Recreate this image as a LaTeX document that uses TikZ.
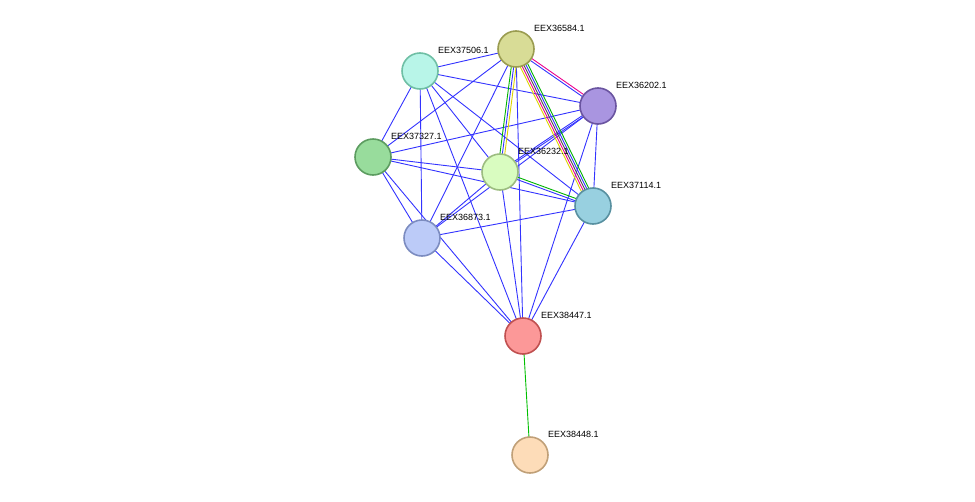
\documentclass[tikz,border=0pt]{standalone}
\usepackage{fontspec}
\setmainfont{Liberation Sans}
\usetikzlibrary{calc}
\tikzset{
  prot/.style = {circle, minimum size=36pt, inner sep=0pt, line width=1.6pt},
  lbl/.style = {font=\fontsize{9}{10}\selectfont, anchor=west, inner sep=0pt},
  ppi/.style = {draw=blue!80!white, line width=0.9pt}
}
% one line of a bundle, shifted sideways by #3
\newcommand{\bundleline}[4]{\draw[line width=0.9pt, #4] ($(#1)!#3!90:(#2)$) -- ($(#2)!#3!-90:(#1)$);}

\begin{document}
\begin{tikzpicture}[x=1pt, y=-1pt]
  \useasboundingbox (0,0) rectangle (975,501);

  \coordinate (n84) at (516,49);
  \coordinate (n06) at (420,71);
  \coordinate (n02) at (598,106);
  \coordinate (n27) at (373,157);
  \coordinate (n32) at (500,172);
  \coordinate (n14) at (593,206);
  \coordinate (n73) at (422,238);
  \coordinate (n47) at (523,336);
  \coordinate (n48) at (530,455);

  % plain edges
  \foreach \a/\b in {n84/n06, n84/n27, n84/n73, n84/n47,
                     n06/n02, n06/n27, n06/n73, n06/n32, n06/n14, n06/n47,
                     n02/n27, n02/n14, n02/n47, n02/n73,
                     n27/n32, n27/n14, n27/n73, n27/n47,
                     n32/n73, n32/n47, n14/n73, n14/n47, n73/n47}
    \draw[ppi] (\a) -- (\b);
  \bundleline{n02}{n32}{0.8pt}{blue!80!white}
  \bundleline{n02}{n32}{-0.8pt}{blue!80!white}

  % bundles
  \bundleline{n84}{n02}{1.2pt}{magenta}
  \bundleline{n84}{n02}{-1.2pt}{blue!80!white}
  \bundleline{n84}{n14}{-4pt}{yellow!70!olive}
  \bundleline{n84}{n14}{-2pt}{magenta}
  \bundleline{n84}{n14}{0pt}{black!70}
  \bundleline{n84}{n14}{2pt}{blue!80!white}
  \bundleline{n84}{n14}{4pt}{green!70!black}
  \bundleline{n84}{n32}{2.4pt}{yellow!70!olive}
  \bundleline{n84}{n32}{0pt}{blue!80!white}
  \bundleline{n84}{n32}{-2.4pt}{green!70!black}
  \bundleline{n32}{n14}{1.2pt}{green!70!black}
  \bundleline{n32}{n14}{-1.2pt}{blue!80!white}
  \draw[line width=0.9pt, green!75!black] (n47) -- (n48);

  % proteins
  \node[prot, fill={rgb,255:red,216;green,220;blue,150}, draw={rgb,255:red,154;green,156;blue,80}] (p84) at (n84) {};
  \node[prot, fill={rgb,255:red,184;green,245;blue,232}, draw={rgb,255:red,111;green,191;blue,165}] (p06) at (n06) {};
  \node[prot, fill={rgb,255:red,169;green,149;blue,224}, draw={rgb,255:red,106;green,84;blue,160}] (p02) at (n02) {};
  \node[prot, fill={rgb,255:red,152;green,220;blue,156}, draw={rgb,255:red,92;green,156;blue,96}] (p27) at (n27) {};
  \node[prot, fill={rgb,255:red,217;green,252;blue,192}, draw={rgb,255:red,156;green,188;blue,128}] (p32) at (n32) {};
  \node[prot, fill={rgb,255:red,152;green,208;blue,224}, draw={rgb,255:red,88;green,144;blue,160}] (p14) at (n14) {};
  \node[prot, fill={rgb,255:red,188;green,203;blue,248}, draw={rgb,255:red,124;green,140;blue,192}] (p73) at (n73) {};
  \node[prot, fill={rgb,255:red,252;green,152;blue,152}, draw={rgb,255:red,192;green,80;blue,80}] (p47) at (n47) {};
  \node[prot, fill={rgb,255:red,253;green,220;blue,184}, draw={rgb,255:red,192;green,160;blue,120}] (p48) at (n48) {};

  % names
  \foreach \n/\t in {84/EEX36584.1, 06/EEX37506.1, 02/EEX36202.1, 27/EEX37327.1,
                     32/EEX36232.1, 14/EEX37114.1, 73/EEX36873.1, 47/EEX38447.1, 48/EEX38448.1}
    \node[lbl] (t\n) at ($(n\n)+(18,-21)$) {\t};
\end{tikzpicture}
\end{document}
